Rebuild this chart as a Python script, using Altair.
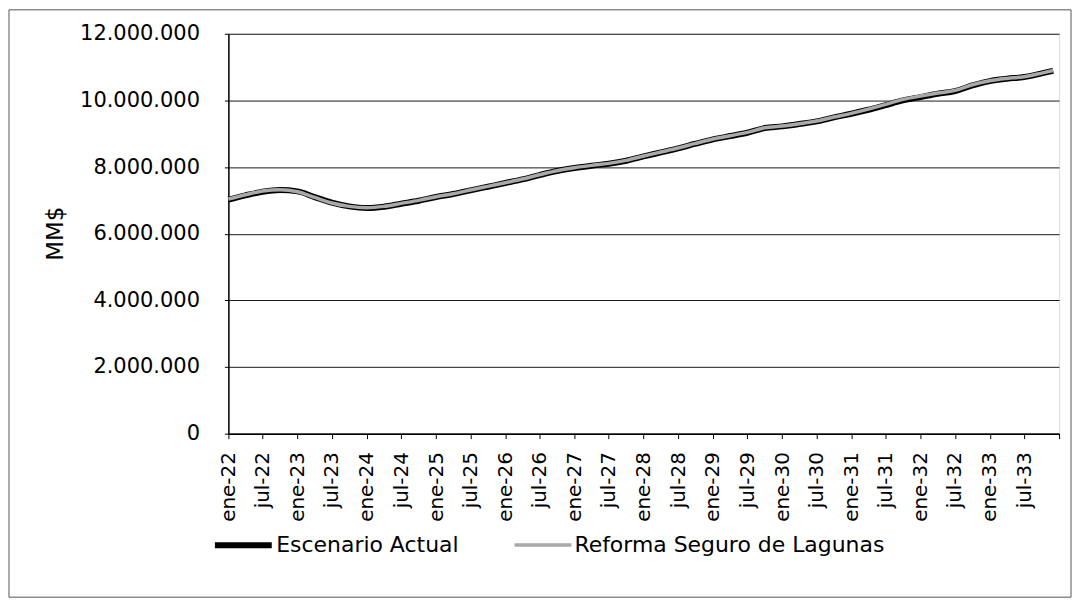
import altair as alt
import pandas as pd

# Dates (quarterly reading points, plus last month)
dates = [
    "2022-01", "2022-04", "2022-07", "2022-10", "2023-01", "2023-04", "2023-07", "2023-10",
    "2024-01", "2024-04", "2024-07", "2024-10", "2025-01", "2025-04", "2025-07", "2025-10",
    "2026-01", "2026-04", "2026-07", "2026-10", "2027-01", "2027-04", "2027-07", "2027-10",
    "2028-01", "2028-04", "2028-07", "2028-10", "2029-01", "2029-04", "2029-07", "2029-10",
    "2030-01", "2030-04", "2030-07", "2030-10", "2031-01", "2031-04", "2031-07", "2031-10",
    "2032-01", "2032-04", "2032-07", "2032-10", "2033-01", "2033-04", "2033-07", "2033-10",
    "2033-12",
]

escenario_actual = [
    7020000, 7150000, 7260000, 7310000, 7270000, 7100000, 6930000, 6820000,
    6770000, 6810000, 6900000, 6990000, 7100000, 7190000, 7300000, 7410000,
    7520000, 7630000, 7760000, 7880000, 7970000, 8040000, 8100000, 8190000,
    8320000, 8440000, 8560000, 8700000, 8830000, 8930000, 9030000, 9170000,
    9220000, 9290000, 9370000, 9490000, 9600000, 9720000, 9860000, 10000000,
    10100000, 10200000, 10280000, 10450000, 10580000, 10650000, 10700000, 10810000,
    10890000,
]

reforma_lagunas = [
    7040000, 7170000, 7280000, 7320000, 7260000, 7090000, 6920000, 6820000,
    6780000, 6820000, 6910000, 7000000, 7110000, 7200000, 7310000, 7420000,
    7530000, 7640000, 7770000, 7890000, 7980000, 8050000, 8110000, 8200000,
    8330000, 8450000, 8570000, 8710000, 8840000, 8940000, 9040000, 9180000,
    9230000, 9300000, 9380000, 9500000, 9610000, 9740000, 9880000, 10030000,
    10130000, 10220000, 10300000, 10470000, 10590000, 10660000, 10710000, 10820000,
    10900000,
]

series_names = ["Escenario Actual", "Reforma Seguro de Lagunas"]
y_ticks = [0, 2000000, 4000000, 6000000, 8000000, 10000000, 12000000]

rows = []
for name, vals in zip(series_names, [escenario_actual, reforma_lagunas]):
    for d, v in zip(dates, vals):
        rows.append({"fecha": d + "-01T00:00:00", "valor": v, "serie": name})
df = pd.DataFrame(rows)

x_ticks = [alt.DateTime(year=y, month=m, date=1) for y in range(2022, 2034) for m in (1, 7)]
x_ticks.append(alt.DateTime(year=2034, month=1, date=1))

FONT = "DejaVu Sans"

lines = alt.Chart(df).mark_line(interpolate="monotone").encode(
    x=alt.X(
        "fecha:T",
        scale=alt.Scale(domain=[alt.DateTime(year=2022, month=1, date=1),
                                alt.DateTime(year=2034, month=1, date=1)]),
        axis=alt.Axis(
            title=None,
            values=x_ticks,
            labelExpr="year(datum.value) >= 2034 ? '' : (month(datum.value) == 0 ? 'ene' : 'jul') + '-' + timeFormat(datum.value, '%y')",
            labelAngle=-90,
            labelAlign="right",
            labelBaseline="middle",
            labelFont=FONT,
            labelFontSize=20,
            labelColor="#000",
            labelPadding=13,
            tickSize=5,
            tickColor="#000",
            domainColor="#000",
            domainWidth=1.5,
            grid=False,
            labelOverlap=False,
            labelFlush=False,
        ),
    ),
    y=alt.Y(
        "valor:Q",
        scale=alt.Scale(domain=[0, 12000000], nice=False),
        axis=alt.Axis(
            title="MM$",
            values=y_ticks,
            labelExpr="replace(format(datum.value, ','), regexp(',', 'g'), '.')",
            labelFont=FONT,
            labelFontSize=21,
            labelColor="#000",
            labelPadding=25,
            tickSize=4,
            tickColor="#000",
            domainColor="#000",
            domainWidth=1.5,
            grid=True,
            gridColor="#1a1a1a",
            gridWidth=1,
            titleFont=FONT,
            titleFontSize=23,
            titleFontWeight=500,
            titleColor="#000",
            titleAngle=-90,
            titleX=-173,
            titleY=200,
            titleAlign="center",
            titleBaseline="middle",
        ),
    ),
    color=alt.Color(
        "serie:N",
        scale=alt.Scale(domain=series_names, range=["#000000", "#a9a9a9"]),
        legend=alt.Legend(
            title=None,
            orient="none",
            legendX=-17,
            legendY=481,
            direction="horizontal",
            symbolType="stroke",
            symbolSize=3250,
            symbolStrokeWidth=4,
            labelFont=FONT,
            labelFontSize=22,
            labelColor="#000",
            labelOffset=1,
            columnPadding=48,
            labelLimit=500,
        ),
    ),
    strokeWidth=alt.StrokeWidth(
        "serie:N",
        scale=alt.Scale(domain=series_names, range=[6, 3.5]),
        legend=None,
    ),
    order=alt.Order("serie:N"),
)

frame = alt.Chart(alt.Data(values=[{}])).mark_rect(
    fill=None, stroke="#555", strokeWidth=1
).encode(
    x=alt.value(-220), x2=alt.value(845), y=alt.value(-24), y2=alt.value(565)
)

chart = alt.layer(frame, lines).properties(
    width=833,
    height=401,
    padding={"left": 221, "top": 25, "right": 13, "bottom": 165},
    autosize="none",
).configure_view(stroke=None).configure(background="white")

chart.save("out.html", embed_options={"renderer": "svg", "actions": False})
